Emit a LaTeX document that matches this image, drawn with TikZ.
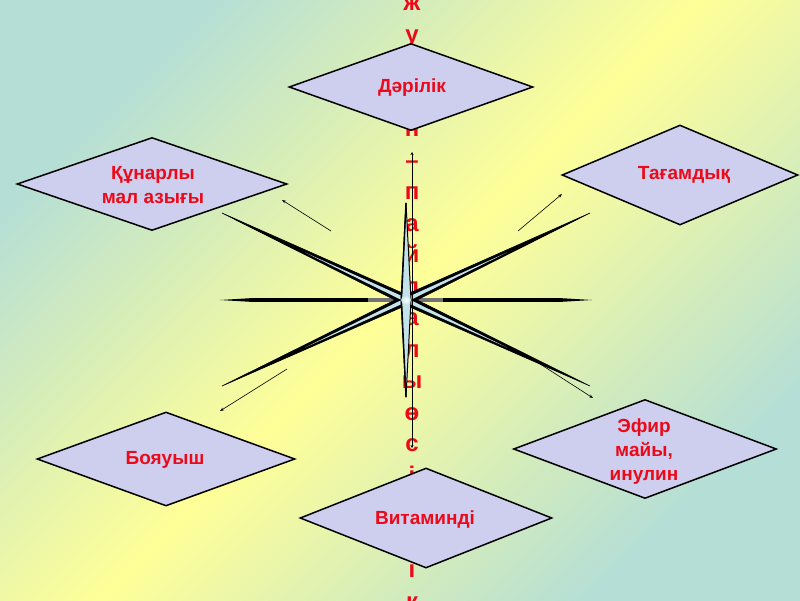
\documentclass[tikz,border=0pt]{standalone}
\usepackage{fontspec}
\setmainfont{Liberation Sans}
\usetikzlibrary{shapes.geometric,arrows.meta}
\definecolor{txtred}{RGB}{235,10,25}
\definecolor{dfill}{RGB}{206,206,238}
\definecolor{bgteal}{RGB}{180,222,214}
\definecolor{bgyel}{RGB}{255,255,152}
\definecolor{starlight}{RGB}{196,226,234}
\begin{document}
\begin{tikzpicture}[x=1pt,y=-1pt,
  rhomb/.style={shape=diamond, draw=black, line width=1.5pt, fill=dfill, inner sep=0pt},
  lbl/.style={align=center, inner sep=0pt, font=\bfseries\fontsize{19}{24}\selectfont, text=txtred},
  vletter/.style={font=\bfseries\fontsize{24}{24}\selectfont, text=txtred, inner sep=0pt, anchor=base},
  ray/.style={fill=black, draw=black, line width=0.6pt, line join=round},
  rayin/.style={fill=starlight},
  thinarrow/.style={line width=0.6pt, -{Stealth[length=4pt,width=3pt]}}]
\useasboundingbox (0,0) rectangle (800,600);
\shade[left color=bgteal, right color=bgteal, middle color=bgyel, shading angle=45] (0,0) rectangle (800,600);
% vertical title letters
\foreach \ch [count=\k from 0] in {ж,у,с,а,н,–,п,а,й,д,а,л,ы,ө,с,і,м,д,і,к}
  \node[vletter] (v\k) at (412,10.5+31.5*\k) {\ch};
% star
\coordinate (c) at (406,300);
\coordinate (hl) at (220,300);
\coordinate (hr) at (592,300);
\coordinate (ul) at (222,213);
\coordinate (ur) at (590,213);
\coordinate (ll) at (222,386);
\coordinate (lr) at (590,386);
\coordinate (vtop) at (406,203);
\coordinate (vbot) at (406,397);
\fill[black] (hl) -- (250,298.2) -- (562,298.2) -- (hr) -- (562,301.8) -- (250,301.8) -- cycle;
\fill[black!55] (368,298) rectangle (443,302);
\draw[ray] (ul) -- (404,304.5) -- (lr) -- (408,295.5) -- cycle;
\draw[ray] (ur) -- (408,304.5) -- (ll) -- (404,295.5) -- cycle;
\fill[rayin] (305,252.5) -- (405.2,301.8) -- (507,347.5) -- (406.8,298.2) -- cycle;
\fill[rayin] (507,252.5) -- (406.8,301.8) -- (305,347.5) -- (405.2,298.2) -- cycle;
\draw[fill=starlight, draw=black, line width=1pt, line join=round] (vtop) -- (411,300) -- (vbot) -- (401,300) -- cycle;
\draw[black, line width=1.4pt] (vtop) -- (401.5,300) -- (vbot);
\shade[inner color=white, outer color=starlight] (c) circle (5);
% thin arrows
\coordinate (at) at (412,152);
\coordinate (ab) at (412,448);
\draw[line width=0.6pt, {Stealth[length=3pt,width=3pt]}-{Stealth[length=3pt,width=3pt]}] (ab) -- (at);
\coordinate (a1s) at (331,231); \coordinate (a1e) at (282,200);
\coordinate (a2s) at (518,231); \coordinate (a2e) at (562,194);
\coordinate (a3s) at (287,369); \coordinate (a3e) at (220,411);
\coordinate (a4s) at (537,362); \coordinate (a4e) at (593,398);
\draw[thinarrow] (a1s) -- (a1e);
\draw[thinarrow] (a2s) -- (a2e);
\draw[thinarrow] (a3s) -- (a3e);
\draw[thinarrow] (a4s) -- (a4e);
% diamonds
\node[rhomb, minimum width=244pt, minimum height=87pt] (d1) at (411,87) {};
\node[rhomb, minimum width=270pt, minimum height=93pt] (d2) at (152,184) {};
\node[rhomb, minimum width=236pt, minimum height=100pt] (d3) at (680,175) {};
\node[rhomb, minimum width=263pt, minimum height=99pt] (d4) at (645,449) {};
\node[rhomb, minimum width=258pt, minimum height=94pt] (d5) at (166,459) {};
\node[rhomb, minimum width=252pt, minimum height=100pt] (d6) at (426,518) {};
\node[lbl] (t1) at (412,88) {Дәрілік};
\node[lbl] (t2) at (153,185.5) {Құнарлы\\мал азығы};
\node[lbl] (t3) at (684,175) {Тағамдық};
\node[lbl] (t4) at (644,451.5) {Эфир\\майы,\\инулин};
\node[lbl] (t5) at (165,460) {Бояуыш};
\node[lbl] (t6) at (425,519) {Витаминді};
\end{tikzpicture}
\end{document}
